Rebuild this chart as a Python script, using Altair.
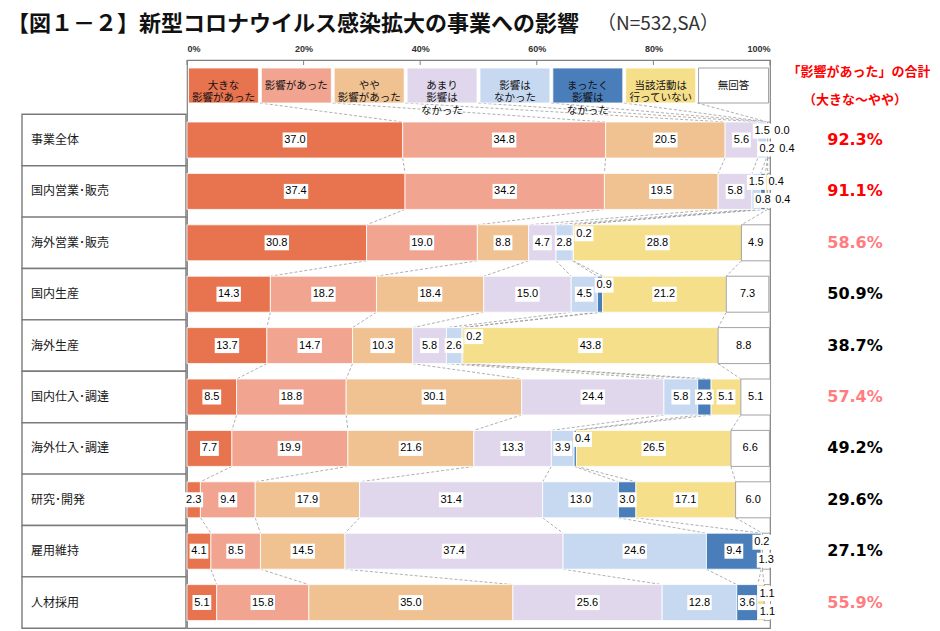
import altair as alt
import pandas as pd

TITLE_BOLD = "【図１－２】新型コロナウイルス感染拡大の事業への影響"
TITLE_NOTE = "（N=532,SA）"
HEADER_1 = "「影響があった」の合計"
HEADER_2 = "（大きな～やや）"

CATEGORIES = ["大きな影響があった", "影響があった", "やや影響があった", "あまり影響はなかった",
              "影響はなかった", "まったく影響はなかった", "当該活動は行っていない", "無回答"]
LEGEND_LABELS = ["大きな\n影響があった", "影響があった", "やや\n影響があった", "あまり\n影響は\nなかった",
                 "影響は\nなかった", "まったく\n影響は\nなかった", "当該活動は\n行っていない", "無回答"]
ROW_NAMES = ["事業全体", "国内営業･販売", "海外営業･販売", "国内生産", "海外生産",
             "国内仕入･調達", "海外仕入･調達", "研究･開発", "雇用維持", "人材採用"]

JIGYO_ZENTAI = [37.0, 34.8, 20.5, 5.6, 1.5, 0.2, 0.0, 0.4]
KOKUNAI_EIGYO = [37.4, 34.2, 19.5, 5.8, 1.5, 0.8, 0.4, 0.4]
KAIGAI_EIGYO = [30.8, 19.0, 8.8, 4.7, 2.8, 0.2, 28.8, 4.9]
KOKUNAI_SEISAN = [14.3, 18.2, 18.4, 15.0, 4.5, 0.9, 21.2, 7.3]
KAIGAI_SEISAN = [13.7, 14.7, 10.3, 5.8, 2.6, 0.2, 43.8, 8.8]
KOKUNAI_SHIIRE = [8.5, 18.8, 30.1, 24.4, 5.8, 2.3, 5.1, 5.1]
KAIGAI_SHIIRE = [7.7, 19.9, 21.6, 13.3, 3.9, 0.4, 26.5, 6.6]
KENKYU = [2.3, 9.4, 17.9, 31.4, 13.0, 3.0, 17.1, 6.0]
KOYO = [4.1, 8.5, 14.5, 37.4, 24.6, 9.4, 0.2, 1.3]
JINZAI = [5.1, 15.8, 35.0, 25.6, 12.8, 3.6, 1.1, 1.1]
ROW_VALUES = [JIGYO_ZENTAI, KOKUNAI_EIGYO, KAIGAI_EIGYO, KOKUNAI_SEISAN, KAIGAI_SEISAN,
              KOKUNAI_SHIIRE, KAIGAI_SHIIRE, KENKYU, KOYO, JINZAI]
X_TICKS = [0, 20, 40, 60, 80, 100]

COLORS = ["#E8734F", "#F1A48F", "#F0C291", "#E0D7EC", "#C7D9F0", "#4A7EBB", "#F5DF8A", "#FFFFFF"]
STROKES = ["#FFFFFF", "#FFFFFF", "#FFFFFF", "#FFFFFF", "#FFFFFF", "#FFFFFF", "#FFFFFF", "#8C8C8C"]

# ---------------- layout constants ----------------
W = 583
H = 568
ROW_H = 51.4
D0 = -80 / ROW_H
D1 = D0 + H / ROW_H
LEG_Y = D0 + 25.5 / ROW_H
BAR_HALF = 18 / ROW_H
LEG_HALF = 17.5 / ROW_H
LANE = {"c": 0.0, "t": -9.0, "b": 9.0}
NUM_FONT = "Liberation Sans"
JP_FONT = "Noto Sans CJK JP"

# ---------------- tables ----------------
seg_rows, lab_rows, conn_rows, tot_rows, name_rows = [], [], [], [], []
cum_ends = []
for i, (name, vals) in enumerate(zip(ROW_NAMES, ROW_VALUES)):
    name_rows.append({"name": name, "y": i, "y0": i - 0.5, "y1": i + 0.5})
    cum = 0.0
    ends = []
    lr = {"t": -1e9, "b": -1e9}
    toggle = 0
    for k, v in enumerate(vals):
        seg_rows.append({"cat": CATEGORIES[k], "x0": cum, "x1": cum + v,
                         "y0": i - BAR_HALF, "y1": i + BAR_HALF})
        txt = f"{v:.1f}"
        w = 5.6 * len(txt) + 2
        seg_px = v * W / 100
        cx = (cum + v / 2) * W / 100
        if seg_px >= 0.7 * w:
            lane = "c"
            x = max(cx, max(lr["t"], lr["b"]) + 1 + w / 2)
            lr["t"] = lr["b"] = x + w / 2
        else:
            lane = "t" if toggle == 0 else "b"
            toggle ^= 1
            x = max(cx, lr[lane] + 1 + w / 2)
            lr[lane] = x + w / 2
        yc = i + LANE[lane] / ROW_H
        lab_rows.append({"txt": txt, "x": x * 100 / W,
                         "bx0": (x - w / 2) * 100 / W, "bx1": (x + w / 2) * 100 / W,
                         "y": yc, "by0": yc - 7.5 / ROW_H, "by1": yc + 7.5 / ROW_H})
        cum += v
        ends.append(cum)
    cum_ends.append(ends)
    total = sum(vals[:3])
    col = "#FF0000" if total >= 90 else ("#FF7C80" if total >= 55 else "#000000")
    tot_rows.append({"txt": f"{total:.1f}%", "y": i, "col": col})

for k in range(1, len(CATEGORIES)):
    conn_rows.append({"x": 100 * k / len(CATEGORIES), "x2": cum_ends[0][k - 1],
                      "y": LEG_Y + LEG_HALF, "y2": -BAR_HALF})
    for i in range(len(ROW_VALUES) - 1):
        conn_rows.append({"x": cum_ends[i][k - 1], "x2": cum_ends[i + 1][k - 1],
                          "y": i + BAR_HALF, "y2": i + 1 - BAR_HALF})

leg_rows = []
n = len(CATEGORIES)
for k, (c, lab) in enumerate(zip(CATEGORIES, LEGEND_LABELS)):
    leg_rows.append({"cat": c, "lab": lab, "x0": 100 * k / n + 0.25, "x1": 100 * (k + 1) / n - 0.25,
                     "xm": 100 * (k + 0.5) / n, "y": LEG_Y,
                     "y0": LEG_Y - LEG_HALF, "y1": LEG_Y + LEG_HALF})

seg_df = pd.DataFrame(seg_rows)
lab_df = pd.DataFrame(lab_rows)
conn_df = pd.DataFrame(conn_rows)
tot_df = pd.DataFrame(tot_rows)
name_df = pd.DataFrame(name_rows)
leg_df = pd.DataFrame(leg_rows)
tick_df = pd.DataFrame({"t": X_TICKS})
text_df = pd.DataFrame({"t": [TITLE_BOLD]})

XS = alt.Scale(domain=[0, 100], nice=False, zero=False)
YS = alt.Scale(domain=[D0, D1], reverse=True, nice=False, zero=False)
X_AXIS = alt.Axis(orient="top", values=X_TICKS, labelExpr="datum.value + '%'", ticks=False,
                  domain=False, grid=False, labelFontSize=9, labelFontWeight="bold",
                  labelColor="#333333", labelPadding=7, labelFont=NUM_FONT, title=None)
COLOR = alt.Color("cat:N", scale=alt.Scale(domain=CATEGORIES, range=COLORS), legend=None)
STROKE = alt.Stroke("cat:N", scale=alt.Scale(domain=CATEGORIES, range=STROKES), legend=None)


def xq(field):
    return alt.X(field, type="quantitative", scale=XS, axis=X_AXIS)


def yq(field):
    return alt.Y(field, type="quantitative", scale=YS, axis=None)


name_boxes = alt.Chart(name_df).mark_rect(fill="white", stroke="#7a7a7a", strokeWidth=1.4).encode(
    x=alt.value(-165), x2=alt.value(-1), y=yq("y0"), y2="y1")
name_text = alt.Chart(name_df).mark_text(align="left", baseline="middle", fontSize=12,
                                         font=JP_FONT, color="#1a1a1a").encode(
    x=alt.value(-156), y=yq("y"), text="name:N")

connectors = alt.Chart(conn_df).mark_rule(color="#9a9a9a", strokeWidth=0.8, strokeDash=[3, 2]).encode(
    x=xq("x"), x2="x2", y=yq("y"), y2="y2")

bars = alt.Chart(seg_df).mark_rect(strokeWidth=0.8).encode(
    x=xq("x0"), x2="x1", y=yq("y0"), y2="y1", color=COLOR, stroke=STROKE)

leg_boxes = alt.Chart(leg_df).mark_rect(strokeWidth=0.8).encode(
    x=xq("x0"), x2="x1", y=yq("y0"), y2="y1", color=COLOR, stroke=STROKE)
leg_text = alt.Chart(leg_df).mark_text(lineBreak="\n", lineHeight=12.5, fontSize=10.5, font=JP_FONT,
                                       color="#111111", baseline="middle").encode(
    x=xq("xm"), y=yq("y"), text="lab:N")

lab_boxes = alt.Chart(lab_df).mark_rect(fill="white").encode(
    x=xq("bx0"), x2="bx1", y=yq("by0"), y2="by1")
lab_text = alt.Chart(lab_df).mark_text(fontSize=11, font=NUM_FONT, color="#000000",
                                       baseline="middle").encode(
    x=xq("x"), y=yq("y"), text="txt:N")

ticks = alt.Chart(tick_df).mark_rule(color="#808080", strokeWidth=1).encode(
    x=xq("t"), y=alt.value(0), y2=alt.value(5))

totals = alt.Chart(tot_df).mark_text(fontSize=16, fontWeight="bold", font="DejaVu Sans",
                                     baseline="middle").encode(
    x=alt.value(668), y=yq("y"), text="txt:N", color=alt.Color("col:N", scale=None))

head1 = alt.Chart(pd.DataFrame({"t": [HEADER_1]})).mark_text(
    fontSize=13, fontWeight="bold", font=JP_FONT, color="#FF0000", baseline="middle").encode(
    x=alt.value(672), y=alt.value(12), text="t:N")
head2 = alt.Chart(pd.DataFrame({"t": [HEADER_2]})).mark_text(
    fontSize=13, fontWeight="bold", font=JP_FONT, color="#FF0000", baseline="middle").encode(
    x=alt.value(668), y=alt.value(40), text="t:N")

title1 = alt.Chart(text_df).mark_text(fontSize=22, fontWeight="bold", font=JP_FONT, color="#111111",
                                      align="left", baseline="middle").encode(
    x=alt.value(-180), y=alt.value(-36), text="t:N")
title2 = alt.Chart(pd.DataFrame({"t": [TITLE_NOTE]})).mark_text(
    fontSize=19, font=JP_FONT, color="#333333", align="left", baseline="middle").encode(
    x=alt.value(410), y=alt.value(-36), text="t:N")

chart = alt.layer(
    name_boxes, name_text, connectors, bars, leg_boxes, leg_text, lab_boxes, lab_text,
    ticks, totals, head1, head2, title1, title2
).properties(
    width=W, height=H, autosize="none",
    padding={"left": 179, "top": 52, "right": 160, "bottom": 2},
).configure_view(stroke="#808080", strokeWidth=1.2)

chart.save("out.html", embed_options={"renderer": "svg", "actions": False})
